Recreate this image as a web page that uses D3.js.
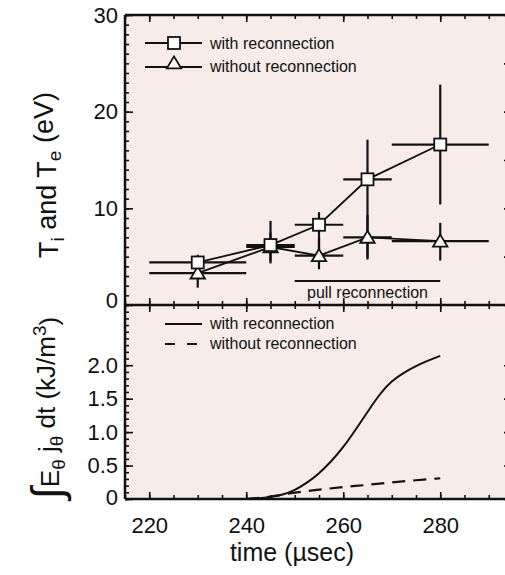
<!DOCTYPE html>
<html>
<head>
<meta charset="utf-8">
<script src="https://cdn.jsdelivr.net/npm/d3@7"></script>
<style>
body { margin: 0; background: #fff; }
text { font-family: "Liberation Sans", Arial, sans-serif; fill: #111; }
</style>
</head>
<body>
<svg id="chart"></svg>
<script>
// time axis ticks and labels
var timeTicks = [220, 240, 260, 280]
var tempTicks = [0, 10, 20, 30]
var energyTicks = [0, 0.5, 1.0, 1.5, 2.0]

// top panel: temperatures (eV) with error bars
var tWith = [230, 245, 255, 265, 280]
var tempWith = [4.4, 6.2, 8.3, 13.0, 16.6]
var tErrWith = [10, 5, 5, 5, 10]
var tempLoWith = [3.6, 4.3, 4.6, 4.9, 10.4]
var tempHiWith = [5.2, 8.7, 9.6, 17.1, 22.8]

var tWithout = [230, 245, 255, 265, 280]
var tempWithout = [3.3, 6.0, 5.1, 7.0, 6.6]
var tErrWithout = [10, 5, 5, 5, 10]
var tempLoWithout = [1.8, 4.5, 3.7, 4.7, 4.6]
var tempHiWithout = [4.6, 7.5, 7.0, 9.3, 8.5]

var pullRange = [250, 280]

// bottom panel: integrated E.j (kJ/m^3)
var tSolid = [240, 242.5, 245, 247.5, 250, 252.5, 255, 257.5, 260, 262.5, 265, 267.5, 270, 272.5, 275, 277.5, 280]
var eSolid = [0, 0.01, 0.03, 0.06, 0.13, 0.24, 0.38, 0.56, 0.77, 1.03, 1.3, 1.57, 1.77, 1.89, 1.99, 2.07, 2.14]
var tDash = [240, 245, 250, 255, 260, 265, 270, 275, 280]
var eDash = [0, 0.03, 0.1, 0.14, 0.18, 0.21, 0.25, 0.28, 0.31]

var W = 505, H = 575
var left = 125, right = 513
var topY = 15, midY = 305, botY = 499

var svg = d3.select("#chart").attr("width", W).attr("height", H)

var x = d3.scaleLinear().domain([215, 295]).range([left, right])
var yT = d3.scaleLinear().domain([0, 30]).range([midY, topY])
var yE = d3.scaleLinear().domain([0, 2.9]).range([botY, midY])

// background of both panels
svg.append("rect").attr("x", left).attr("y", topY).attr("width", right - left).attr("height", botY - topY)
   .attr("fill", "#f7ece9")

var axisStyle = function(g, noLabels)
{
    g.select(".domain").remove()
    g.selectAll("line").attr("stroke", "#111").attr("stroke-width", 1.6)
    g.selectAll("text").style("font-size", "22px").style("font-family", "Liberation Sans, Arial, sans-serif")
    if (noLabels) g.selectAll("text").remove()
}

var minorT = d3.range(215, 296, 5)

// x ticks, all pointing into the panels
var addX = function(y, axisFn, size, labels)
{
    var gMin = svg.append("g").attr("transform", "translate(0," + y + ")")
        .call(axisFn(x).tickValues(minorT).tickSize(size * 4).tickFormat(""))
    axisStyle(gMin, true)
    var g = svg.append("g").attr("transform", "translate(0," + y + ")")
        .call(axisFn(x).tickValues(timeTicks).tickSize(size * 7).tickPadding(18))
    axisStyle(g, !labels)
}
addX(topY, d3.axisTop, -1, false)
addX(midY, d3.axisBottom, -1, false)
addX(midY, d3.axisBottom, 1, false)
addX(botY, d3.axisBottom, -1, true)

// y axes, top panel
var gl = svg.append("g").attr("transform", "translate(" + left + ",0)")
    .call(d3.axisLeft(yT).tickValues(d3.range(0, 31, 1)).tickSize(-4).tickFormat(""))
axisStyle(gl, true)
var gl2 = svg.append("g").attr("transform", "translate(" + left + ",0)")
    .call(d3.axisLeft(yT).tickValues(tempTicks).tickSize(-8).tickPadding(7))
axisStyle(gl2, false)
gl2.selectAll(".tick").filter(function(d){ return d == 0 }).select("text").attr("dy", "0.1em")
var gr = svg.append("g").attr("transform", "translate(" + right + ",0)")
    .call(d3.axisRight(yT).tickValues(d3.range(0, 31, 5)).tickSize(-9).tickFormat(""))
axisStyle(gr, true)

// y axes, bottom panel
var el = svg.append("g").attr("transform", "translate(" + left + ",0)")
    .call(d3.axisLeft(yE).tickValues(d3.range(0, 29, 1).map(function(v){ return v / 10 })).tickSize(-4).tickFormat(""))
axisStyle(el, true)
var el2 = svg.append("g").attr("transform", "translate(" + left + ",0)")
    .call(d3.axisLeft(yE).tickValues(energyTicks).tickSize(-8).tickPadding(7)
    .tickFormat(function(d){ return d == 0 ? "0" : d3.format(".1f")(d) }))
axisStyle(el2, false)
el2.selectAll(".tick").filter(function(d){ return d == 0 }).select("text").attr("dy", "0.25em")
var er = svg.append("g").attr("transform", "translate(" + right + ",0)")
    .call(d3.axisRight(yE).tickValues(energyTicks).tickSize(-9).tickFormat(""))
axisStyle(er, true)

// frames
var frame = function(x1, y1, x2, y2)
{
    svg.append("line").attr("x1", x1).attr("x2", x2).attr("y1", y1).attr("y2", y2).attr("stroke", "#111").attr("stroke-width", 2.5)
}
frame(left, topY, right, topY)
frame(left, midY, right, midY)
frame(left, botY, right, botY)
frame(left, topY, left, botY)

// --- top panel data ---
var plot = svg.append("g")
var drawSeries = function(ts, vs, xe, lo, hi)
{
    var idx = d3.range(ts.length)
    plot.selectAll(null).data(idx).enter().append("line")
        .attr("x1", function(i){ return x(ts[i] - xe[i]) })
        .attr("x2", function(i){ return x(ts[i] + xe[i]) })
        .attr("y1", function(i){ return yT(vs[i]) })
        .attr("y2", function(i){ return yT(vs[i]) })
        .attr("stroke", "#111").attr("stroke-width", 2.2)
    plot.selectAll(null).data(idx).enter().append("line")
        .attr("x1", function(i){ return x(ts[i]) })
        .attr("x2", function(i){ return x(ts[i]) })
        .attr("y1", function(i){ return yT(lo[i]) })
        .attr("y2", function(i){ return yT(hi[i]) })
        .attr("stroke", "#111").attr("stroke-width", 2.2)
    var line = d3.line().x(function(i){ return x(ts[i]) }).y(function(i){ return yT(vs[i]) })
    plot.append("path").datum(idx).attr("d", line).attr("fill", "none").attr("stroke", "#111").attr("stroke-width", 1.8)
}
drawSeries(tWithout, tempWithout, tErrWithout, tempLoWithout, tempHiWithout)
drawSeries(tWith, tempWith, tErrWith, tempLoWith, tempHiWith)

var triPath = function(cx, cy, s)
{
    return "M" + cx + "," + (cy - s * 0.55) + "L" + (cx + s * 0.6) + "," + (cy + s * 0.45) + "L" + (cx - s * 0.6) + "," + (cy + s * 0.45) + "Z"
}
plot.selectAll(null).data(d3.range(tWithout.length)).enter().append("path")
    .attr("d", function(i){ return triPath(x(tWithout[i]), yT(tempWithout[i]), 12) })
    .attr("fill", "#fff").attr("stroke", "#111").attr("stroke-width", 1.8)
plot.selectAll(null).data(d3.range(tWith.length)).enter().append("rect")
    .attr("x", function(i){ return x(tWith[i]) - 6 })
    .attr("y", function(i){ return yT(tempWith[i]) - 6 })
    .attr("width", 12).attr("height", 12)
    .attr("fill", "#fff").attr("stroke", "#111").attr("stroke-width", 1.8)

// pull reconnection bar
svg.append("line").attr("x1", x(pullRange[0])).attr("x2", x(pullRange[1])).attr("y1", 281).attr("y2", 281)
   .attr("stroke", "#111").attr("stroke-width", 2)
svg.append("text").attr("x", (x(pullRange[0]) + x(pullRange[1])) / 2).attr("y", 298)
   .attr("text-anchor", "middle").style("font-size", "16px").text("pull reconnection")

// top legend
var lg = svg.append("g")
lg.append("line").attr("x1", 145).attr("x2", 202).attr("y1", 43).attr("y2", 43).attr("stroke", "#111").attr("stroke-width", 1.8)
lg.append("rect").attr("x", 168).attr("y", 37).attr("width", 12).attr("height", 12).attr("fill", "#fff").attr("stroke", "#111").attr("stroke-width", 1.8)
lg.append("text").attr("x", 210).attr("y", 49).style("font-size", "16px").text("with reconnection")
lg.append("line").attr("x1", 145).attr("x2", 202).attr("y1", 67).attr("y2", 67).attr("stroke", "#111").attr("stroke-width", 1.8)
lg.append("path").attr("d", triPath(174, 63, 12)).attr("fill", "#fff").attr("stroke", "#111").attr("stroke-width", 1.8)
lg.append("text").attr("x", 210).attr("y", 72).style("font-size", "16px").text("without reconnection")

// --- bottom panel curves ---
var solidLine = d3.line().x(function(i){ return x(tSolid[i]) }).y(function(i){ return yE(eSolid[i]) }).curve(d3.curveBasis)
var dashLine = d3.line().x(function(i){ return x(tDash[i]) }).y(function(i){ return yE(eDash[i]) }).curve(d3.curveBasis)
svg.append("path").datum(d3.range(tDash.length)).attr("d", dashLine).attr("fill", "none")
   .attr("stroke", "#111").attr("stroke-width", 2.2).attr("stroke-dasharray", "13,8")
svg.append("path").datum(d3.range(tSolid.length)).attr("d", solidLine).attr("fill", "none")
   .attr("stroke", "#111").attr("stroke-width", 2)

var lb = svg.append("g")
lb.append("line").attr("x1", 165).attr("x2", 202).attr("y1", 324).attr("y2", 324).attr("stroke", "#111").attr("stroke-width", 2)
lb.append("text").attr("x", 210).attr("y", 329).style("font-size", "16px").text("with reconnection")
lb.append("line").attr("x1", 165).attr("x2", 202).attr("y1", 344).attr("y2", 344).attr("stroke", "#111").attr("stroke-width", 2.2).attr("stroke-dasharray", "10,12")
lb.append("text").attr("x", 210).attr("y", 349).style("font-size", "16px").text("without reconnection")

// axis titles
var yt = svg.append("text").attr("transform", "translate(58,175) rotate(-90)").attr("text-anchor", "middle").style("font-size", "27px")
yt.append("tspan").text("T")
yt.append("tspan").attr("dy", "0.3em").style("font-size", "19px").text("i")
yt.append("tspan").attr("dy", "-0.3em").text(" and T")
yt.append("tspan").attr("dy", "0.3em").style("font-size", "19px").text("e")
yt.append("tspan").attr("dy", "-0.3em").text(" (eV)")

var yb = svg.append("text").attr("transform", "translate(58,408) rotate(-90)").attr("text-anchor", "middle").style("font-size", "26px")
yb.append("tspan").style("font-size", "44px").attr("dy", "0.08em").text("\u222B")
yb.append("tspan").attr("dy", "-0.1em").text("E")
yb.append("tspan").attr("dy", "0.3em").style("font-size", "19px").text("\u03B8")
yb.append("tspan").attr("dy", "-0.3em").text(" j")
yb.append("tspan").attr("dy", "0.3em").style("font-size", "19px").text("\u03B8")
yb.append("tspan").attr("dy", "-0.3em").text(" dt (kJ/m")
yb.append("tspan").attr("dy", "-0.45em").style("font-size", "19px").text("3")
yb.append("tspan").attr("dy", "0.45em").text(")")

svg.append("text").attr("x", 292).attr("y", 561).attr("text-anchor", "middle").style("font-size", "25px").text("time (\u00B5sec)")
</script>
</body>
</html>
